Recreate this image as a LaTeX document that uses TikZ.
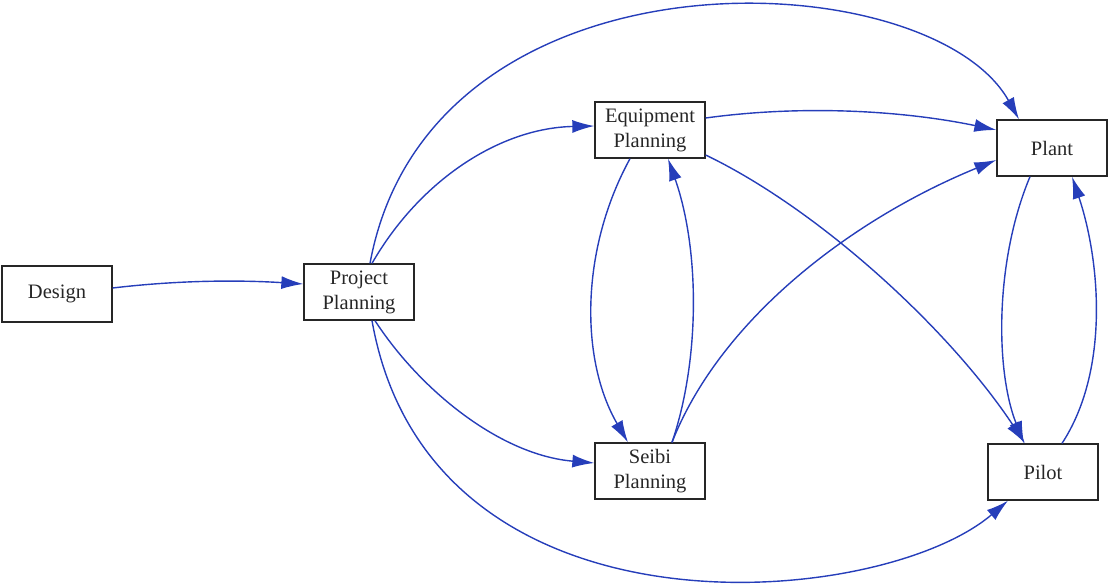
\documentclass[tikz,border=0pt]{standalone}
\usepackage{fontspec}
\setmainfont{Liberation Serif}
\usetikzlibrary{arrows.meta}
\definecolor{edgeblue}{RGB}{38,62,186}
\tikzset{
  box/.style={draw=black!85, line width=1.3pt, minimum width=110pt, minimum height=56pt,
    inner sep=0pt, align=center, font=\fontsize{20.5}{25}\selectfont, text=black!85},
  flow/.style={draw=edgeblue, line width=1.4pt,
    -{Latex[length=22pt,width=13pt]}}
}
\begin{document}
\begin{tikzpicture}[x=1pt,y=-1pt]
\useasboundingbox (0,0) rectangle (1110,586);
\node[box] (d)  at (57,294)   {Design};
\node[box] (pp) at (359,292)  {Project\\Planning};
\node[box] (eq) at (650,130)  {Equipment\\Planning};
\node[box] (se) at (650,471)  {Seibi\\Planning};
\node[box] (pl) at (1052,148) {Plant};
\node[box] (pi) at (1043,472) {Pilot};

% design to project planning
\draw[flow] ([yshift=6pt]d.east) .. controls (180,280) and (240,280) .. ([yshift=8pt]pp.west);
% project planning fan-out
\draw[flow] ([xshift=13pt]pp.north) .. controls (420,180) and (500,128) .. ([yshift=4pt]eq.west);
\draw[flow] ([xshift=11pt]pp.north) .. controls (430,-62) and (930,-40) .. ([xshift=-33pt]pl.north);
\draw[flow] ([xshift=16pt]pp.south) .. controls (420,390) and (500,455) .. ([yshift=8pt]se.west);
\draw[flow] ([xshift=13pt]pp.south) .. controls (430,650) and (880,610) .. ([xshift=-35pt]pi.south);
% equipment planning
\draw[flow] ([yshift=12pt]eq.east) .. controls (800,105) and (900,110) .. ([yshift=18pt]pl.west);
\draw[flow] ([yshift=-25pt]eq.east) .. controls (820,210) and (950,330) .. ([xshift=-18pt]pi.north);
\draw[flow] ([xshift=-20pt]eq.south) .. controls (580,250) and (580,360) .. ([xshift=-22pt]se.north);
% seibi planning
\draw[flow] ([xshift=22pt]se.north) .. controls (700,360) and (700,250) .. ([xshift=18pt]eq.south);
\draw[flow] ([xshift=22pt]se.north) .. controls (720,320) and (850,220) .. ([yshift=-12pt]pl.west);
% plant and pilot
\draw[flow] ([xshift=-22pt]pl.south) .. controls (995,260) and (995,370) .. ([xshift=-19pt]pi.north);
\draw[flow] ([xshift=19pt]pi.north) .. controls (1110,370) and (1100,260) .. ([xshift=20pt]pl.south);
\end{tikzpicture}
\end{document}
